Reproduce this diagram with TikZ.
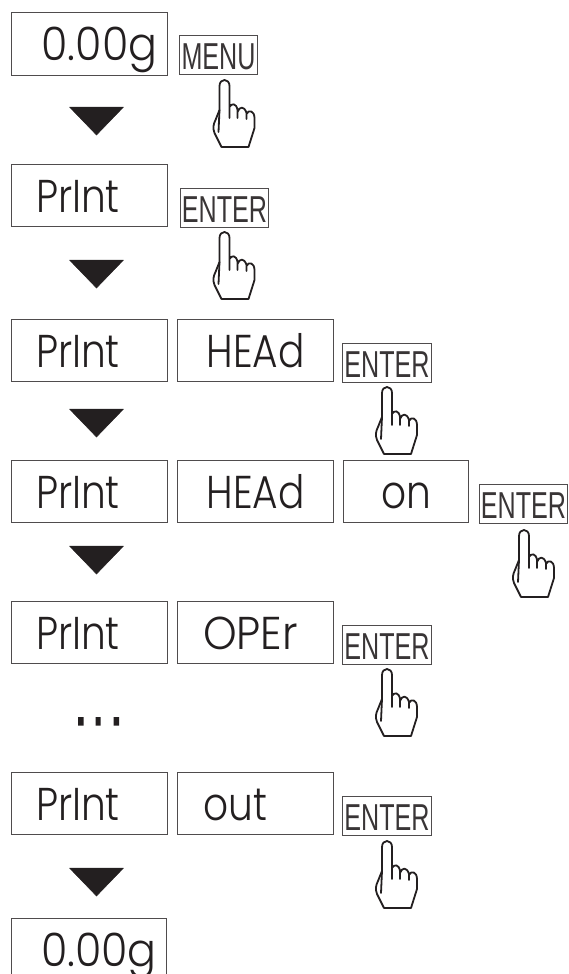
\documentclass[tikz,border=0pt]{standalone}
\usepackage{fontspec}
\setmainfont{Poppins Light}
\newfontfamily\keyfont{Liberation Sans}
\definecolor{ink}{HTML}{231F20}
\tikzset{
 x=1pt,y=-1pt,
 disp/.style={draw=ink!80,line width=1pt,minimum height=62pt,inner sep=0pt,text height=48pt,text depth=14pt,text=ink,anchor=north west},
 keybox/.style={draw=ink!80,line width=1pt,minimum height=39pt,inner sep=0pt,text height=34pt,text depth=5pt,text=ink!90,anchor=north west},
 tri/.style={fill=ink,draw=ink,line width=.5pt,line join=round},
 dot/.style={fill=ink,draw=none},
 hand/.pic={
  \draw[ink,line width=1.8pt,line join=round,line cap=round]
   (-3,67) -- (-10,53) .. controls (-12,48) and (-11,44) .. (-9,40) -- (-5,30)
   -- (-5,6) .. controls (-5,-2) and (5,-2) .. (5,6) -- (5,38)
   (5,27) .. controls (7,23) and (12,23) .. (13,30) -- (13,38)
   (13,32) .. controls (15,26) and (20,26) .. (22,33) -- (22,39)
   (22,34) .. controls (24,29) and (30,31) .. (30,38)
   -- (30,48) -- (24,67) -- (-3,67);
  \draw[ink,line width=1.8pt,line cap=round] (-5,30) -- (-6,52);
 }
}
\newcommand{\disptext}[1]{\fontsize{46}{46}\selectfont\scalebox{.85}[1]{#1}}
\newcommand{\widetext}[1]{\fontsize{46}{46}\selectfont\scalebox{.93}[1]{#1}}
\newcommand{\keylabel}[1]{\fontsize{37.5}{37.5}\keyfont\selectfont\scalebox{.67}[1]{#1}}
\newcommand{\downtri}[2]{\draw[tri] (#1-27,#2) -- (#1+27,#2) -- (#1,#2+28) -- cycle;}
\begin{document}
\begin{tikzpicture}
\useasboundingbox (0,0) rectangle (568,974);
% row 1
\node[disp,minimum width=156pt] (d1) at (10.5,12.5) {\hspace{21pt}\widetext{0.00g}};
\node[keybox,minimum width=78pt] (k1) at (179,35) {\keylabel{MENU}};
\downtri{96.5}{107}
\pic at (224.5,80) {hand};
% row 2
\node[disp,minimum width=156pt] (d2) at (11,164) {\hspace{-23pt}\disptext{PrInt}};
\node[keybox,minimum width=88pt] (k2) at (180,188) {\keylabel{ENTER}};
\downtri{96.5}{260}
\pic at (224.5,232) {hand};
% row 3
\node[disp,minimum width=156pt] (d3) at (11,319) {\hspace{-23pt}\disptext{PrInt}};
\node[disp,minimum width=156pt] (d3b) at (177,319) {\disptext{HEAd}};
\node[keybox,minimum width=89pt] (k3) at (342,343) {\keylabel{ENTER}};
\downtri{96.5}{409}
\pic at (387,387) {hand};
% row 4
\node[disp,minimum width=156pt] (d4) at (11,460) {\hspace{-23pt}\disptext{PrInt}};
\node[disp,minimum width=156pt] (d4b) at (177,460) {\disptext{HEAd}};
\node[disp,minimum width=125pt] (d4c) at (343,460) {\disptext{on}};
\node[keybox,minimum width=88pt] (k4) at (479,484) {\keylabel{ENTER}};
\downtri{96.5}{546}
\pic at (524,530) {hand};
% row 5
\node[disp,minimum width=156pt] (d5) at (11,601) {\hspace{-23pt}\disptext{PrInt}};
\node[disp,minimum width=156pt] (d5b) at (177,601) {\hspace{-10pt}\widetext{OPEr}};
\node[keybox,minimum width=89pt] (k5) at (342,625) {\keylabel{ENTER}};
\pic at (387,669) {hand};
\fill[dot] (78,717) rectangle (83.5,725.5) (95.5,717) rectangle (100.5,725.5) (113.5,717) rectangle (119,725.5);
% row 6
\node[disp,minimum width=156pt] (d6) at (11,772) {\hspace{-23pt}\disptext{PrInt}};
\node[disp,minimum width=156pt] (d6b) at (177,772) {\hspace{-40pt}\disptext{out}};
\node[keybox,minimum width=89pt] (k6) at (342,796) {\keylabel{ENTER}};
\downtri{96.5}{868}
\pic at (387,841) {hand};
% last
\node[disp,minimum width=155pt] (d7) at (10.5,918) {\hspace{21pt}\widetext{0.00g}};
\end{tikzpicture}
\end{document}
